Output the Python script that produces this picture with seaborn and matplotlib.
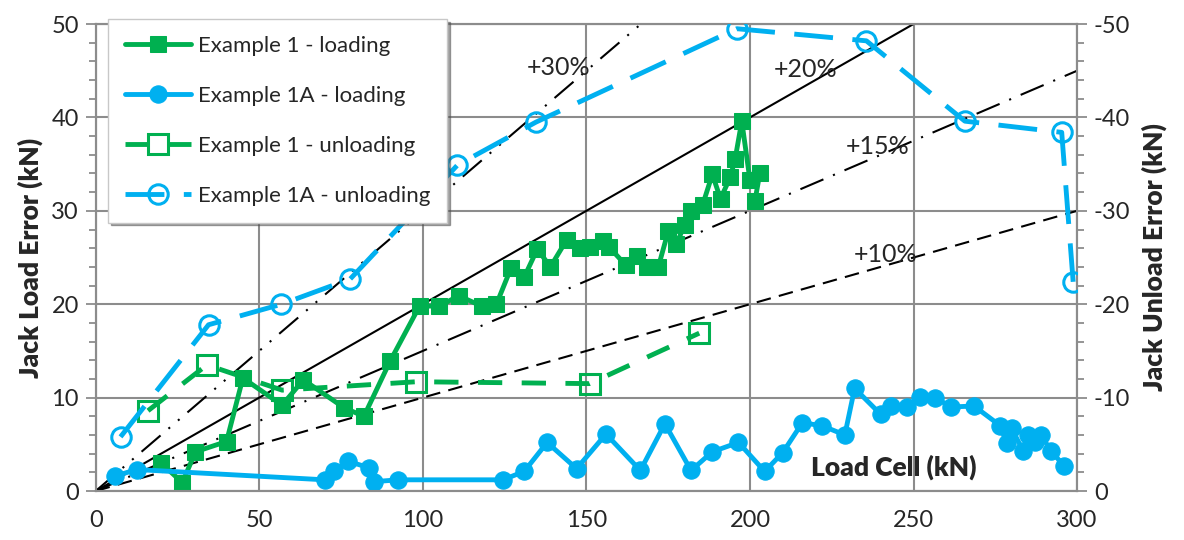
import matplotlib
matplotlib.use("Agg")
import matplotlib.pyplot as plt
import seaborn as sns
import numpy as np

# ---------------- data ----------------
ex1_load_x = [20, 26.5, 30.5, 40, 45, 57, 63.5, 76, 82, 90, 99, 105, 111, 118, 122.5,
              127, 131, 135, 139, 144, 148, 151, 155, 157, 162, 165.5, 168.5, 172, 175,
              177.5, 180, 182, 185.5, 188.5, 191, 194, 195.5, 197.5, 200, 203, 201.5]
ex1_load_y = [3.0, 0.9, 4.2, 5.3, 12.1, 9.2, 11.9, 8.9, 8.0, 13.9, 19.8, 19.8, 20.9, 19.8, 20.0,
              23.9, 22.9, 25.9, 24.0, 26.9, 26.0, 26.1, 26.8, 26.1, 24.2, 25.2, 24.0, 24.0, 27.8,
              26.4, 28.5, 30.0, 30.6, 33.9, 31.3, 33.6, 35.6, 39.6, 33.3, 34.0, 31.0]

ex1a_load_x = [6, 12.5, 70, 73, 77, 83.5, 85, 92.5, 124.5, 131, 138, 147, 156, 166.5, 174,
               182, 188.5, 196.5, 204.5, 210, 216, 222, 229, 232, 240, 243, 248, 252, 256.5,
               261.5, 268.5, 276.5, 278.5, 280, 283.5, 285, 287, 289, 292, 296]
ex1a_load_y = [1.6, 2.3, 1.2, 2.1, 3.2, 2.5, 1.0, 1.2, 1.2, 2.1, 5.2, 2.4, 6.1, 2.2, 7.2,
               2.2, 4.2, 5.2, 2.1, 4.1, 7.3, 7.0, 6.0, 11.0, 8.2, 9.1, 9.0, 10.1, 10.0,
               9.0, 9.1, 7.0, 5.1, 6.7, 4.3, 6.0, 5.3, 6.0, 4.3, 2.7]

ex1_unload_x = [16, 34, 57, 98, 151, 184.5]
ex1_unload_y = [-8.6, -13.5, -10.8, -11.7, -11.5, -16.9]

ex1a_unload_x = [7.6, 34.5, 56.8, 77.8, 110.6, 134.6, 196, 235.6, 265.7, 295.3, 298.8]
ex1a_unload_y = [-5.8, -17.8, -20.0, -22.7, -34.9, -39.5, -49.5, -48.2, -39.6, -38.4, -22.4]

ref_pct = [30, 20, 15, 10]
ref_x_end = [166.7, 250, 300, 300]
ref_labels = ["+30%", "+20%", "+15%", "+10%"]
ref_label_x = [141.5, 217, 239, 241.5]
ref_label_y = [45.3, 45.1, 36.9, 25.3]

x_ticks = [0, 50, 100, 150, 200, 250, 300]
yl_ticks = [0, 10, 20, 30, 40, 50]
yr_ticks = [0, -10, -20, -30, -40, -50]

GREEN = "#00B050"
BLUE = "#00B0F0"
GRID = "#8C8C8C"

# ---------------- style ----------------
sns.set_style("white")
plt.rcParams["font.family"] = ["Lato", "DejaVu Sans"]
plt.rcParams["axes.unicode_minus"] = False

fig = plt.figure(figsize=(11.84, 5.4), dpi=100)
ax = fig.add_axes([0.0808, 0.0907, 0.8289, 0.8648])
ax2 = ax.twinx()

# reference lines
ref_styles = [(0, (12, 5, 1, 5, 1, 5)), "-", (0, (12, 5, 1, 5)), (0, (7, 4))]
for pct, xe, ls in zip(ref_pct, ref_x_end, ref_styles):
    xs = [0, xe]
    ys = [0, xe * pct / 100.0]
    sns.lineplot(x=xs, y=ys, ax=ax, color="black", linewidth=1.5, linestyle=ls,
                 estimator=None, sort=False, zorder=3)
for t, tx, ty in zip(ref_labels, ref_label_x, ref_label_y):
    ax.text(tx, ty, t, fontsize=18, ha="center", va="center", zorder=4)

# series
sns.lineplot(x=ex1_load_x, y=ex1_load_y, ax=ax, color=GREEN, linewidth=3.5,
             marker="s", markersize=12, markeredgecolor=GREEN, markerfacecolor=GREEN,
             estimator=None, sort=False, label="Example 1 - loading", zorder=5)
sns.lineplot(x=ex1a_load_x, y=ex1a_load_y, ax=ax, color=BLUE, linewidth=3.5,
             marker="o", markersize=12.5, markeredgecolor=BLUE, markerfacecolor=BLUE,
             estimator=None, sort=False, label="Example 1A - loading", zorder=5)
sns.lineplot(x=ex1_unload_x, y=ex1_unload_y, ax=ax2, color=GREEN, linewidth=3.5,
             linestyle=(0, (5, 4)), marker="s", markersize=14, markeredgewidth=2.2,
             markeredgecolor=GREEN, markerfacecolor="none",
             estimator=None, sort=False, label="Example 1 - unloading", zorder=5)
sns.lineplot(x=ex1a_unload_x, y=ex1a_unload_y, ax=ax2, color=BLUE, linewidth=3.5,
             linestyle=(0, (8, 4)), marker="o", markersize=14, markeredgewidth=2.2,
             markeredgecolor=BLUE, markerfacecolor="none",
             estimator=None, sort=False, label="Example 1A - unloading", zorder=5)

# axes
ax.set_xlim(0, 300)
ax.set_ylim(0, 50)
ax2.set_ylim(0, -50)
ax.set_xticks(x_ticks)
ax.set_yticks(yl_ticks)
ax2.set_yticks(yr_ticks)
ax.set_xticklabels([str(v) for v in x_ticks])
ax.set_yticklabels([str(v) for v in yl_ticks])
ax2.set_yticklabels([str(v) for v in yr_ticks])
ax.set_xticks(np.arange(0, 301, 10), minor=True)
ax.set_yticks(np.arange(0, 51, 2), minor=True)
ax2.set_yticks(np.arange(0, -51, -2), minor=True)

ax.grid(True, which="major", color=GRID, linewidth=1.5)
ax.set_axisbelow(True)
for a in (ax, ax2):
    for s in a.spines.values():
        s.set_color(GRID)
        s.set_linewidth(1.5)
    a.tick_params(which="both", direction="out", color=GRID, width=1.3, labelsize=17)
    a.tick_params(which="major", length=7)
    a.tick_params(which="minor", length=5)
ax.tick_params(axis="x", pad=7)
ax.tick_params(axis="y", pad=5, left=True)
ax2.tick_params(axis="y", pad=5, right=True)
ax2.patch.set_visible(False)

ax.set_ylabel("Jack Load Error (kN)", fontsize=19, fontweight="heavy", labelpad=6)
ax2.set_ylabel("Jack Unload Error (kN)", fontsize=19, fontweight="heavy", labelpad=8)
ax.set_xlabel("")
ax.text(244, 2.5, "Load Cell (kN)", fontsize=19, fontweight="heavy",
        ha="center", va="center", zorder=6)

# legend
h1, l1 = ax.get_legend_handles_labels()
h2, l2 = ax2.get_legend_handles_labels()
if ax.get_legend() is not None:
    ax.get_legend().remove()
if ax2.get_legend() is not None:
    ax2.get_legend().remove()
leg = ax2.legend(h1 + h2, l1 + l2, loc="upper left", bbox_to_anchor=(0.0125, 1.01),
                 fontsize=16, handlelength=3.0, handletextpad=0.3, labelspacing=1.35,
                 borderpad=0.75, frameon=True, fancybox=False, shadow=True, framealpha=1,
                 edgecolor="#C8C8C8", borderaxespad=0)
leg.set_zorder(20)

fig.savefig("out.png", dpi=100)
